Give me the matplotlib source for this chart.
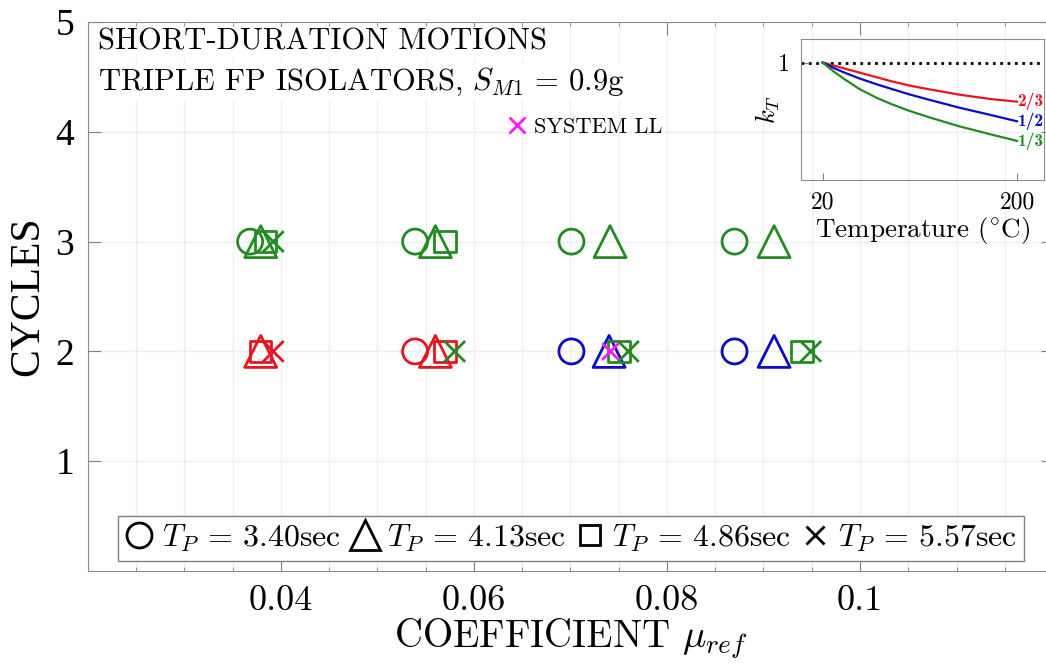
import numpy as np
import matplotlib.pyplot as plt
from matplotlib.lines import Line2D

plt.rcParams['mathtext.fontset'] = 'cm'
plt.rcParams['font.family'] = 'cmr10'
plt.rcParams['axes.unicode_minus'] = False
plt.rcParams['axes.formatter.use_mathtext'] = True

# colours
GREEN = '#228b22'
RED = '#e8141e'
BLUE = '#0a0ac8'
MAGENTA = '#ff1aff'

# main data: friction coefficient vs cycles, one list per marker (T_P)
circ_mu = [0.0368, 0.0539, 0.0701, 0.0870, 0.0539, 0.0701, 0.0870]
circ_cyc = [3, 3, 3, 3, 2, 2, 2]
circ_col = [GREEN, GREEN, GREEN, GREEN, RED, BLUE, BLUE]

tri_mu = [0.0379, 0.0560, 0.0741, 0.0911, 0.0379, 0.0560, 0.0740, 0.0911]
tri_cyc = [3, 3, 3, 3, 2, 2, 2, 2]
tri_col = [GREEN, GREEN, GREEN, GREEN, RED, RED, BLUE, BLUE]

sq_mu = [0.0384, 0.0570, 0.0379, 0.0570, 0.0750, 0.0940]
sq_cyc = [3, 3, 2, 2, 2, 2]
sq_col = [GREEN, GREEN, RED, RED, GREEN, GREEN]

x_mu = [0.0392, 0.0392, 0.0580, 0.0760, 0.0949]
x_cyc = [3, 2, 2, 2, 2]
x_col = [GREEN, RED, GREEN, GREEN, GREEN]

ll_mu = [0.0741]
ll_cyc = [2]

tp_labels = [r'$T_P\,=\,3.40$sec', r'$T_P\,=\,4.13$sec',
             r'$T_P\,=\,4.86$sec', r'$T_P\,=\,5.57$sec']

# inset: temperature factor curves
temp = [20, 30, 40, 54, 70, 84, 100, 120, 147, 175, 200]
kT_23 = [1.0, 0.975, 0.95, 0.915, 0.875, 0.84, 0.805, 0.77, 0.726, 0.69, 0.667]
kT_12 = [1.0, 0.955, 0.915, 0.865, 0.815, 0.775, 0.73, 0.68, 0.615, 0.555, 0.5]
kT_13 = [1.0, 0.925, 0.86, 0.775, 0.70, 0.645, 0.59, 0.53, 0.456, 0.39, 0.333]
curve_labels = ['2/3', '1/2', '1/3']

fig = plt.figure(figsize=(10.46, 6.71), dpi=100)
ax = fig.add_axes([0.0841, 0.149, 0.9226, 0.8182])

ax.set_xlim(0.02, 0.12)
ax.set_ylim(0, 5)
ax.set_xticks([0.04, 0.06, 0.08, 0.1])
ax.set_xticklabels(['0.04', '0.06', '0.08', '0.1'], fontsize=26)
ax.set_xticks(np.arange(0.02, 0.1201, 0.005), minor=True)
ax.set_yticks([1, 2, 3, 4, 5])
ax.set_yticklabels(['1', '2', '3', '4', '5'], fontsize=27,
                   family='Liberation Serif')
ax.grid(which='both', axis='x', color='#efefef', lw=1)
ax.grid(which='major', axis='y', color='#efefef', lw=1)
ax.set_axisbelow(True)
ax.tick_params(which='both', direction='in', top=True, right=True,
               color='#808080')
ax.tick_params(which='major', length=9, width=0.8, pad=10)
ax.tick_params(which='minor', length=3, width=0.6)
for s in ax.spines.values():
    s.set_color('#8c8c8c')

ax.set_xlabel(r'COEFFICIENT $\mu_{ref}$', fontsize=28, labelpad=0)
ax.set_ylabel('CYCLES', fontsize=30, family='Liberation Serif', labelpad=6)

lw = 2.0
ax.scatter(circ_mu, circ_cyc, s=18**2, marker='o', facecolors='none',
           edgecolors=circ_col, linewidths=lw, zorder=3)
ax.scatter(tri_mu, tri_cyc, s=23**2, marker='^', facecolors='none',
           edgecolors=tri_col, linewidths=lw, zorder=3)
ax.scatter(sq_mu, sq_cyc, s=15.5**2, marker='s', facecolors='none',
           edgecolors=sq_col, linewidths=lw, zorder=3)
ax.scatter(x_mu, x_cyc, s=15**2, marker='x', c=x_col,
           linewidths=lw, zorder=3)
ax.scatter(ll_mu, ll_cyc, s=12**2, marker='x', c=MAGENTA,
           linewidths=lw, zorder=4)

# title text, top left
fig.text(0.0937, 0.9255, 'SHORT-DURATION MOTIONS', fontsize=22,
         va='baseline', bbox=dict(fc='white', ec='none', pad=1))
fig.text(0.0937, 0.866, r'TRIPLE FP ISOLATORS, $S_{M1}\,=\,0.9$g',
         fontsize=22, va='baseline', bbox=dict(fc='white', ec='none', pad=1))

# legends
handles = [Line2D([], [], ls='none', marker=m, ms=ms, mfc='none',
                  mec='k', mew=2, color='k')
           for m, ms in zip(['o', '^', 's', 'x'], [18, 22, 15, 13])]
leg = ax.legend(handles, tp_labels, loc='lower left',
                bbox_to_anchor=(0.031, 0.018), borderaxespad=0, ncol=4,
                fontsize=23, handlelength=0.9, handletextpad=0.25,
                columnspacing=0.3, borderpad=0.22, fancybox=False,
                edgecolor='#808080', framealpha=1)
leg.get_frame().set_linewidth(1.0)
ax.add_artist(leg)

ll_handle = Line2D([], [], ls='none', marker='x', ms=12, mew=2,
                   color=MAGENTA)
ax.legend([ll_handle], ['SYSTEM LL'], loc='center left',
          bbox_to_anchor=(0.466, 0.81), bbox_transform=fig.transFigure,
          frameon=False, fontsize=16, handlelength=0.9, handletextpad=0.3)

# inset
axin = fig.add_axes([0.7658, 0.7317, 0.2323, 0.2101])
axin.patch.set_alpha(0)
axin.set_xlim(0, 225)
axin.set_ylim(0, 1.2)
axin.axhline(1, color='k', ls=':', lw=2)
for k, col, lab in zip([kT_23, kT_12, kT_13], [RED, BLUE, GREEN],
                       curve_labels):
    axin.plot(temp, k, color=col, lw=1.6)
    axin.text(temp[-1] + 0.5, k[-1], lab, color=col, fontsize=12.5,
              family='cmb10', va='center', ha='left')
axin.set_xticks([20, 200])
axin.set_xticklabels(['20', '200'], fontsize=17)
axin.set_yticks([1])
axin.set_yticklabels(['1'], fontsize=17)
axin.tick_params(direction='in', color='#808080', length=5, pad=8)
for s in axin.spines.values():
    s.set_color('#8c8c8c')
axin.set_xlabel(r'Temperature ($^{\circ}$C)', fontsize=19.5, labelpad=1)
axin.set_ylabel(r'$k_T$', fontsize=19, labelpad=-3)

fig.savefig('out.png', dpi=100)
